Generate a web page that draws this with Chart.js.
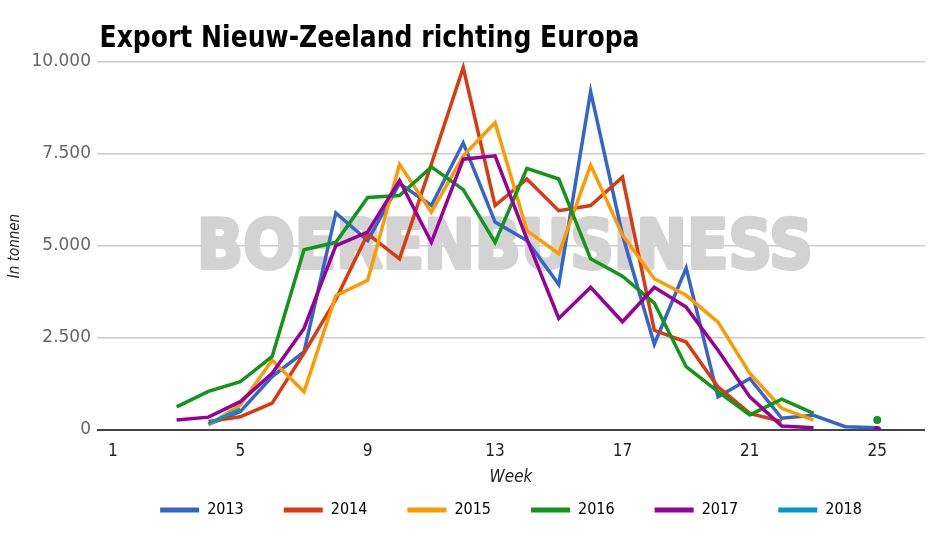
<!DOCTYPE html>
<html>
<head>
<meta charset="utf-8">
<script src="https://cdn.jsdelivr.net/npm/chart.js@4.4.0/dist/chart.umd.min.js"></script>
<style>
  html, body { margin: 0; padding: 0; background: #fff; }
  #wrap { width: 945px; height: 537px; }
</style>
</head>
<body>
<div id="wrap"><canvas id="myChart" width="945" height="537"></canvas></div>
<script>
// weeks on the x axis
var weeks = [1,2,3,4,5,6,7,8,9,10,11,12,13,14,15,16,17,18,19,20,21,22,23,24,25];
var years = ['2013','2014','2015','2016','2017','2018'];
var colors = ['#3366cc','#dc3912','#ff9900','#109618','#990099','#0099c6'];

// export in tonnen per week
var v2013 = [null,null,null,150,500,1450,2120,5900,5150,6700,6100,7800,5650,5150,3950,9200,5300,2330,4400,900,1400,320,400,90,60];
var v2014 = [null,null,null,230,360,730,2090,3550,5330,4650,7230,9850,6100,6820,5960,6100,6870,2710,2390,1170,450,230,null,null,null];
var v2015 = [null,null,null,135,680,1900,1040,3650,4070,7220,5920,7450,8350,5420,4790,7200,5300,4110,3660,2930,1540,590,270,null,null];
var v2016 = [null,null,630,1050,1310,2000,4900,5100,6320,6370,7150,6530,5100,7110,6820,4650,4180,3450,1720,1040,410,840,450,null,270];
var v2017 = [null,null,270,350,770,1540,2760,5010,5380,6780,5100,7360,7450,5190,3030,3880,2940,3880,3340,2170,900,110,60,null,0];
var v2018 = [null,null,null,170,570,null,null,null,null,null,null,null,null,null,null,null,null,null,null,null,null,null,null,null,null];
var series = [v2013, v2014, v2015, v2016, v2017, v2018];

var xTicks = [1,5,9,13,17,21,25];
var yTicks = [0,2500,5000,7500,10000];

var titleText = 'Export Nieuw-Zeeland richting Europa';
var watermark = 'BOERENBUSINESS';

function dots(v) {
  return String(v).replace(/\B(?=(\d{3})+(?!\d))/g, '.');
}

// single points between gaps get a dot, the rest none
function isolated(ctx) {
  var d = ctx.dataset.data, i = ctx.dataIndex;
  if (!d[i] || d[i].y == null) return 0;
  var p = d[i - 1], n = d[i + 1];
  var noPrev = !p || p.y == null, noNext = !n || n.y == null;
  return (noPrev && noNext) ? 4 : 0;
}

var datasets = years.map(function (y, k) {
  return {
    label: y,
    data: weeks.map(function (w, i) { return { x: w, y: series[k][i] }; }),
    borderColor: colors[k],
    backgroundColor: colors[k],
    pointBackgroundColor: colors[k],
    pointBorderWidth: 0,
    borderWidth: 3.5,
    tension: 0,
    spanGaps: false,
    pointRadius: isolated,
    pointHoverRadius: isolated,
    order: years.length - k
  };
});

// title + watermark drawn on the canvas
var extras = {
  id: 'extras',
  beforeDatasetsDraw: function (chart) {
    var c = chart.ctx;
    c.save();
    c.font = 'bold 68px "DejaVu Sans"';
    var w = c.measureText(watermark).width;
    c.translate(197, 268);
    c.scale(616 / w, 1);
    c.fillStyle = '#d3d3d3';
    c.strokeStyle = '#d3d3d3';
    c.lineWidth = 4;
    c.lineJoin = 'round';
    c.textBaseline = 'alphabetic';
    c.strokeText(watermark, 0, 0);
    c.fillText(watermark, 0, 0);
    c.restore();
  },
  afterDraw: function (chart) {
    var c = chart.ctx;
    c.save();
    c.font = 'bold 30px "DejaVu Sans Condensed", "DejaVu Sans"';
    var w = c.measureText(titleText).width;
    c.translate(99.5, 47);
    c.scale(540 / w, 1);
    c.fillStyle = '#000';
    c.textBaseline = 'alphabetic';
    c.fillText(titleText, 0, 0);
    c.restore();
  }
};

const config = {
  type: 'line',
  data: { datasets: datasets },
  plugins: [extras],
  options: {
    responsive: false,
    animation: false,
    layout: { padding: { top: 62, right: 20, left: 0, bottom: 9 } },
    plugins: {
      tooltip: { enabled: false },
      title: { display: false },
      legend: {
        position: 'bottom',
        fullSize: false,
        labels: {
          boxWidth: 39,
          boxHeight: 5,
          padding: 40,
          color: '#222',
          font: { family: '"DejaVu Sans Condensed", "DejaVu Sans"', size: 16 },
          sort: function (a, b) { return a.datasetIndex - b.datasetIndex; },
          generateLabels: function (chart) {
            return chart.data.datasets.map(function (ds, i) {
              return {
                text: ds.label,
                fillStyle: ds.borderColor,
                strokeStyle: ds.borderColor,
                lineWidth: 0,
                hidden: false,
                datasetIndex: i
              };
            });
          }
        }
      }
    },
    scales: {
      x: {
        type: 'linear',
        min: 0.5,
        max: 26.5,
        afterBuildTicks: function (s) { s.ticks = xTicks.map(function (v) { return { value: v }; }); },
        afterFit: function (s) { s.height = 32; },
        grid: { display: false, drawTicks: false },
        border: { display: false },
        ticks: {
          padding: 11,
          maxRotation: 0,
          autoSkip: false,
          color: '#222',
          font: { family: '"DejaVu Sans Condensed", "DejaVu Sans"', size: 17 }
        },
        title: {
          display: true,
          text: 'Week',
          color: '#222',
          padding: { top: 0, bottom: -26 },
          font: { family: '"DejaVu Sans Condensed", "DejaVu Sans"', size: 17, style: 'italic' }
        }
      },
      y: {
        min: 0,
        max: 10000,
        afterBuildTicks: function (s) { s.ticks = yTicks.map(function (v) { return { value: v }; }); },
        afterFit: function (s) { s.width = 97; },
        grid: {
          drawTicks: false,
          color: function (ctx) { return ctx.tick && ctx.tick.value === 0 ? '#444' : '#cccccc'; },
          lineWidth: function (ctx) { return ctx.tick && ctx.tick.value === 0 ? 2 : 1.5; }
        },
        border: { display: false },
        ticks: {
          padding: 6,
          color: '#666',
          font: { family: '"DejaVu Sans"', size: 17 },
          callback: function (v) { return dots(v); }
        },
        title: {
          display: true,
          text: 'In tonnen',
          color: '#222',
          padding: { top: 6, bottom: 0 },
          font: { family: '"DejaVu Sans Condensed", "DejaVu Sans"', size: 15, style: 'italic' }
        }
      }
    }
  }
};

const myChart = new Chart(document.getElementById('myChart'), config);
</script>
</body>
</html>
